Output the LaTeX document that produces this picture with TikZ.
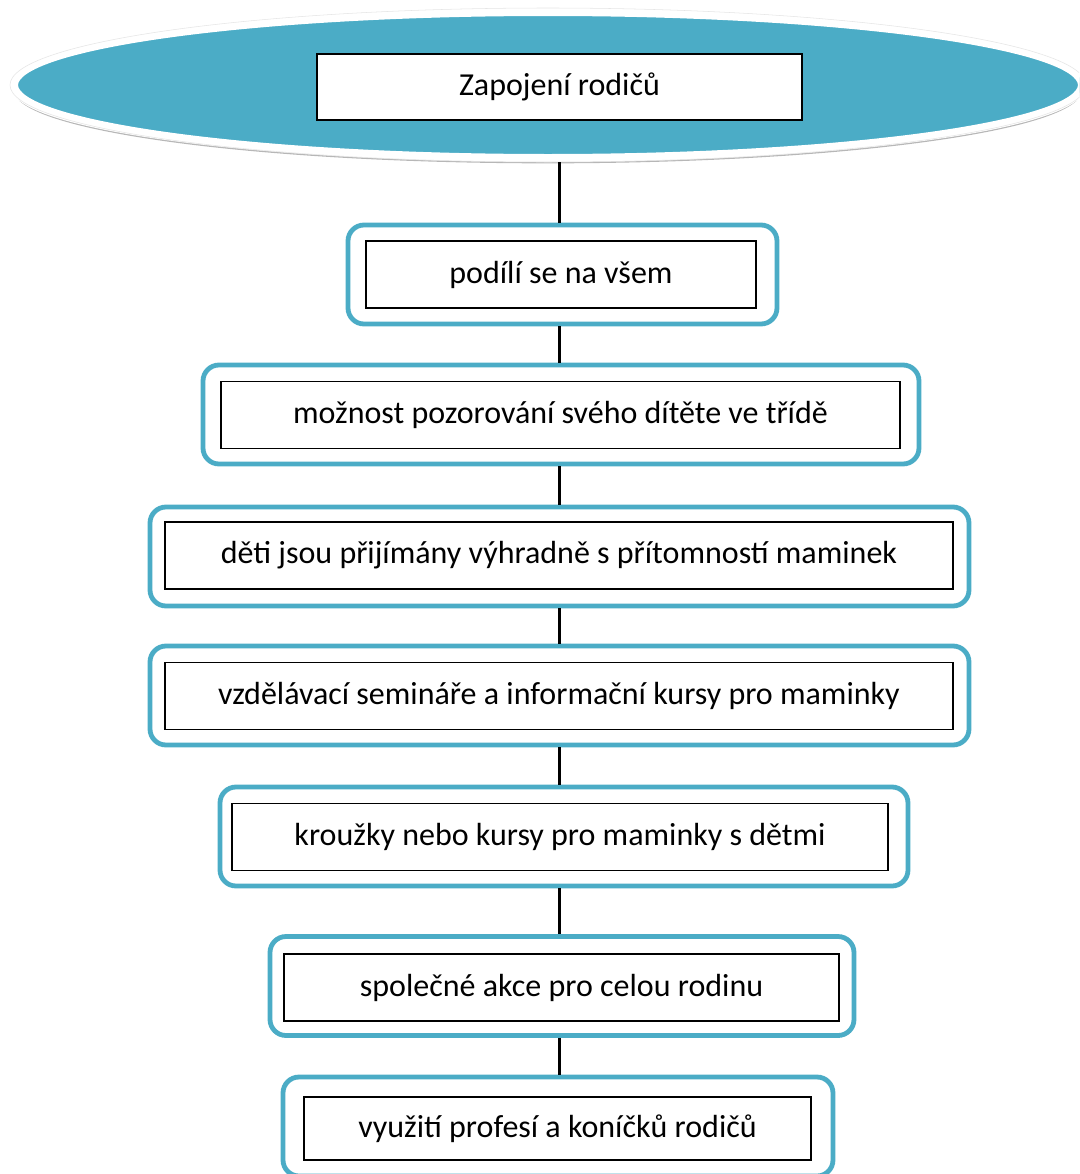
\documentclass[tikz,border=0pt]{standalone}
\usepackage{fontspec}
\setmainfont{Carlito}
\usetikzlibrary{shapes.geometric,shadows}
\definecolor{teal5}{HTML}{4BACC6}
\tikzset{
  outerbox/.style={draw=teal5, line width=3.6pt, rounded corners=12pt, fill=white,
    minimum height=74.25pt, inner sep=0pt},
  innerbox/.style={draw=black, line width=0.9pt, fill=white, minimum height=50.25pt,
    inner sep=0pt, font=\fontsize{24}{28}\selectfont},
  link/.style={draw=black, line width=1.6pt},
}
\begin{document}
\begin{tikzpicture}[x=0.75pt, y=-0.75pt]
\useasboundingbox (0,0) rectangle (1079,1174);
\clip (0,0) rectangle (1079,1174);
% title banner with its soft shadow
\node[ellipse, fill=teal5, draw=white, line width=6pt, minimum width=801pt, minimum height=109.5pt,
  drop shadow={shadow xshift=0pt, shadow yshift=-4pt, opacity=0.4, fill=black!70}] (banner) at (548,85) {};
\draw[black!10, line width=0.4pt] (banner.center) ellipse [x radius=538, y radius=77];
\node[draw=black, line width=0.9pt, fill=white, minimum width=363.75pt, minimum height=49.5pt, inner sep=0pt,
  font=\fontsize{24}{28}\selectfont] (title) at (559.5,87) {Zapojení rodičů};
% stages
\node[outerbox, minimum width=321.75pt] (o1) at (562.5,274.5) {};
\node[innerbox, minimum width=292.5pt] (i1) at (561,274.5) {podílí se na všem};
\node[outerbox, minimum width=537pt] (o2) at (561,414.5) {};
\node[innerbox, minimum width=509.25pt] (i2) at (560.5,415) {možnost pozorování svého dítěte ve třídě};
\node[outerbox, minimum width=614.25pt] (o3) at (559.5,556.5) {};
\node[innerbox, minimum width=591pt] (i3) at (559,555.5) {děti jsou přijímány výhradně s přítomností maminek};
\node[outerbox, minimum width=614.25pt] (o4) at (559.5,695.5) {};
\node[innerbox, minimum width=591pt] (i4) at (559,696) {vzdělávací semináře a informační kursy pro maminky};
\node[outerbox, minimum width=516pt] (o5) at (564,836.5) {};
\node[innerbox, minimum width=492pt] (i5) at (560,837) {kroužky nebo kursy pro maminky s dětmi};
\node[outerbox, minimum width=438pt] (o6) at (562,986) {};
\node[innerbox, minimum width=416.25pt] (i6) at (561.5,987.5) {společné akce pro celou rodinu};
\node[outerbox, minimum width=412.5pt] (o7) at (558,1126.5) {};
\node[innerbox, minimum width=380.25pt, minimum height=47.25pt] (i7) at (557.5,1128.5) {využití profesí a koníčků rodičů};
% connectors
\path[link] (banner.south -| title) -- (o1.north -| title);
\path[link] (o1.south -| title) -- (o2.north -| title);
\path[link] (o2.south -| title) -- (o3.north -| title);
\path[link] (o3.south -| title) -- (o4.north -| title);
\path[link] (o4.south -| title) -- (o5.north -| title);
\path[link] (o5.south -| title) -- (o6.north -| title);
\path[link] (o6.south -| title) -- (o7.north -| title);
\end{tikzpicture}
\end{document}
